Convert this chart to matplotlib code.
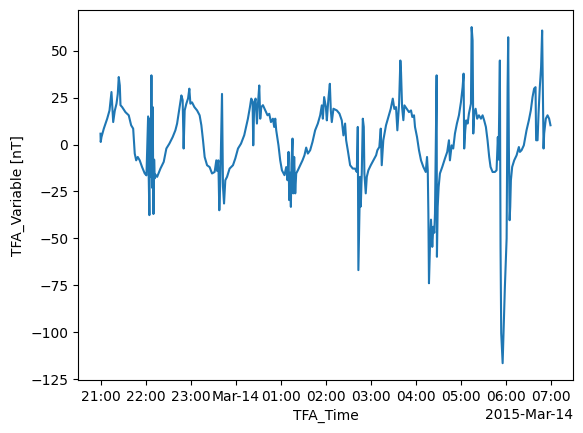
import matplotlib
matplotlib.use('Agg')

import pandas as pd
import matplotlib.pyplot as plt
import matplotlib.dates as mdates

# Start of the record
start = "2015-03-13 21:00"

# Minutes after start
minutes = [
    0.0, 0.3, 1.3, 4.4, 8.9, 12.0, 14.6, 16.9, 19.0, 21.3, 23.0, 24.3, 25.7, 26.6,
    28.8, 33.2, 37.6, 40.8, 43.5, 45.6, 47.5, 49.6, 52.2, 55.4, 58.9, 61.2, 62.1,
    63.4, 64.2, 65.1, 66.1, 66.9, 67.8, 68.7, 69.5, 70.5, 71.4, 72.2, 73.1, 75.4,
    79.8, 84.2, 87.7, 91.7, 96.1, 99.7, 102.0, 105.4, 107.7, 109.4, 110.7, 112.1,
    114.3, 116.6, 118.3, 119.7, 121.9, 125.0, 128.6, 132.0, 134.3, 136.5, 138.7,
    141.9, 145.3, 148.5, 152.0, 154.2, 155.2, 156.9, 158.2, 159.5, 161.8, 163.1,
    164.5, 166.2, 168.5, 171.9, 176.4, 179.5, 183.1, 187.1, 191.4, 196.3, 199.0,
    200.7, 202.5, 203.4, 204.7, 206.5, 208.3, 209.7, 211.4, 212.7, 214.1, 216.3,
    219.4, 222.4, 224.7, 227.0, 229.6, 231.3, 232.7, 234.0, 237.0, 239.3, 241.6,
    245.0, 247.3, 249.0, 250.4, 251.3, 252.6, 253.5, 254.3, 255.7, 256.6, 257.9,
    259.3, 260.6, 262.8, 265.9, 269.0, 271.6, 273.9, 276.1, 279.2, 282.3, 285.8,
    289.4, 292.5, 294.7, 296.1, 297.8, 300.1, 301.4, 303.5, 305.4, 306.7, 308.0,
    310.2, 314.7, 318.2, 321.3, 323.5, 325.7, 327.1, 329.3, 332.4, 336.0, 339.0,
    341.3, 342.6, 343.4, 344.3, 345.7, 346.6, 347.9, 349.3, 350.6, 351.4, 353.2,
    354.6, 356.7, 359.9, 363.4, 367.0, 368.7, 371.3, 373.2, 374.5, 376.6, 380.2,
    383.3, 386.5, 389.2, 391.3, 393.5, 395.3, 397.6, 399.3, 400.2, 401.6, 403.3,
    404.7, 407.8, 410.8, 413.5, 415.2, 417.5, 418.8, 421.5, 424.1, 426.8, 429.9,
    433.1, 434.8, 435.8, 436.6, 437.4, 438.7, 440.1, 441.8, 443.2, 444.5, 445.4,
    446.7, 447.6, 448.0, 449.0, 450.3, 452.0, 455.1, 458.7, 461.7, 464.0, 465.3,
    467.6, 469.7, 472.0, 474.6, 477.3, 480.0, 482.2, 483.5, 484.3, 485.7, 487.0,
    488.9, 490.6, 493.3, 494.2, 495.5, 496.4, 497.7, 499.5, 501.6, 503.9, 506.6,
    508.8, 510.9, 513.2, 515.4, 517.6, 519.4, 522.1, 525.2, 527.4, 529.1, 530.1,
    530.9, 531.8, 532.7, 533.6, 535.5, 538.5, 540.8, 542.1, 542.9, 543.8, 544.8,
    545.6, 546.5, 548.2, 550.9, 554.1, 557.1, 558.5, 560.7, 563.7, 567.3, 570.4,
    573.0, 575.3, 577.4, 579.3, 580.1, 582.0, 583.3, 585.0, 586.7, 588.1, 589.0,
    590.0, 590.8, 593.0, 595.3, 597.4, 599.2,
]

# Field values in nT
values = [
    5.8, 1.4, 4.0, 8.5, 13.8, 18.2, 28.0, 12.0, 18.0, 21.8, 27.0, 36.0, 31.5, 21.0,
    20.0, 17.3, 15.6, 10.3, 8.5, -4.8, -8.4, -6.6, -8.4, -12.0, -15.4, -16.4, -3.0,
    15.0, -17.0, -37.6, 14.0, -17.0, 36.9, -23.0, 20.0, -37.0, -8.0, -18.0, -16.0, -17.2,
    -12.8, -9.2, -2.1, 0.5, 4.0, 7.6, 11.2, 20.0, 26.2, 23.7, -2.1, 18.2,
    21.8, 24.6, 29.8, 21.8, 22.5, 20.0, 18.2, 15.6, 10.3, 2.3, -6.6,
    -11.0, -12.0, -15.4, -14.6, -8.4, -14.0, -8.4, -35.0, -20.0, 27.0, -22.5,
    -31.4, -19.0, -17.2, -12.8, -11.0, -7.4, -2.1, 0.5, 5.0, 13.8, 20.0,
    24.5, 23.0, -0.4, 21.8, 24.5, 11.2, 21.8, 31.5, 13.8, 20.0, 21.0,
    18.2, 15.6, 16.4, 12.0, 13.8, 9.4, 13.8, 7.6, -0.4, -8.4, -13.7,
    -16.3, -12.0, -19.0, -3.9, -29.6, -15.0, -33.2, -10.0, 3.2, -26.0, -6.6,
    -26.0, -15.4, -13.7, -11.0, -8.4, -5.7, -1.6, -4.8, -3.0, 1.4, 7.6,
    11.2, 15.6, 20.9, 13.8, 25.3, 20.0, 12.9, 24.5, 32.4, 18.2, 12.0,
    19.1, 18.2, 16.5, 12.9, 4.9, 11.2, 2.3, -3.0, -11.0, -12.8, -12.8,
    -14.6, 9.4, -66.9, -47.0, -17.2, -33.0, -15.4, 13.8, 9.4, -15.4, -26.0,
    -17.2, -13.7, -11.0, -8.4, -5.7, -3.0, -1.3, 8.5, -11.0, 2.3, 10.3,
    14.7, 19.1, 24.5, 19.0, 20.0, 7.6, 21.8, 44.8, 38.6, 20.0, 13.0,
    20.9, 19.1, 17.3, 18.2, 14.7, 15.6, 9.4, 4.0, -3.0, -8.4, -11.9,
    -14.6, -6.6, -13.7, -36.7, -73.9, -54.5, -40.0, -54.5, -43.8, -47.0, -36.7,
    5.9, 36.9, -59.8, -33.2, -22.5, -15.4, -11.9, -7.4, -3.9, 2.3, -8.4,
    -0.4, -2.1, 5.9, 11.2, 15.6, 22.7, 30.6, 37.8, -2.1, 7.6, 12.9,
    11.2, 16.5, 21.8, 62.6, 55.5, 5.9, 16.5, 19.1, 13.8, 15.6, 13.8,
    15.6, 12.9, 9.4, 2.3, -6.6, -11.9, -14.6, -14.6, -13.7, 4.0, -8.0,
    16.5, 44.8, -54.5, -100.5, -116.5, -75.7, -50.0, 30.6, 57.2, -1.3, -40.3,
    -33.2, -19.0, -11.9, -8.4, -5.7, -1.3, -3.9, -3.0, -0.4, 7.6, 12.9,
    18.2, 25.3, 29.8, 30.6, 2.3, 2.3, 16.5, 30.6, 41.3, 60.8, 30.6,
    -2.1, 5.9, 13.8, 15.6, 13.8, 10.3,
]

times = pd.Timestamp(start) + pd.to_timedelta(minutes, unit="min")

fig = plt.figure(figsize=(5.83, 4.33), dpi=100)
ax = fig.add_axes([0.1338, 0.1224, 0.849, 0.8538])

ax.plot(times, values, color="#1f77b4", linewidth=1.5)

locator = mdates.HourLocator(interval=1)
ax.xaxis.set_major_locator(locator)
ax.xaxis.set_major_formatter(mdates.ConciseDateFormatter(locator))

ax.set_xlabel("TFA_Time")
ax.set_ylabel("TFA_Variable [nT]")

fig.savefig("out.png", dpi=100)
